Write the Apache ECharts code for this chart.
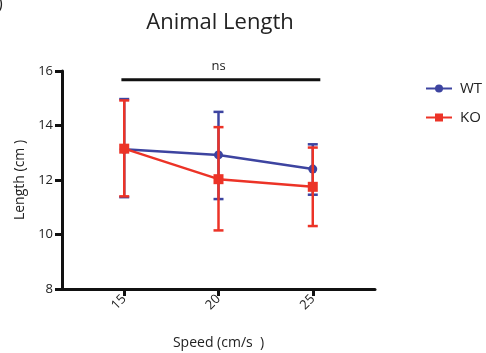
<!DOCTYPE html>
<html>
<head>
<meta charset="utf-8">
<script src="https://cdn.jsdelivr.net/npm/echarts@6/dist/echarts.min.js"></script>
<style>
  html, body { margin: 0; padding: 0; background: #fff; }
  #chart { width: 486px; height: 353px; }
</style>
</head>
<body>
<div id="chart"></div>
<script>
// data
const speeds = [15, 20, 25]
const wtMean = [13.13, 12.92, 12.4]
const wtLow = [11.37, 11.3, 11.46]
const wtHigh = [14.97, 14.5, 13.31]
const koMean = [13.15, 12.03, 11.75]
const koLow = [11.4, 10.15, 10.31]
const koHigh = [14.92, 13.94, 13.19]
const yTicks = [8, 10, 12, 14, 16]
// significance bar: [x start, x end, y]
const sigBar = [14.85, 25.4, 15.68]

const blue = '#3d44a0'
const red = '#ec3327'
const font = 'Open Sans'

const myChart = echarts.init(document.getElementById('chart'))

function errorSeries(name, color, low, high, z) {
  return {
    name: name + ' err',
    type: 'custom',
    z: z,
    data: speeds.map((s, i) => [s, low[i], high[i]]),
    encode: { x: 0, y: [1, 2] },
    renderItem: function (params, api) {
      const x = api.value(0)
      const lo = api.coord([x, api.value(1)])
      const hi = api.coord([x, api.value(2)])
      const w = 5
      const style = { stroke: color, lineWidth: 2.5 }
      return {
        type: 'group',
        children: [
          { type: 'line', shape: { x1: lo[0], y1: lo[1], x2: hi[0], y2: hi[1] }, style: style },
          { type: 'line', shape: { x1: lo[0] - w, y1: lo[1], x2: lo[0] + w, y2: lo[1] }, style: style },
          { type: 'line', shape: { x1: hi[0] - w, y1: hi[1], x2: hi[0] + w, y2: hi[1] }, style: style }
        ]
      }
    }
  }
}

const option = {
  animation: false,
  backgroundColor: '#fff',
  textStyle: { fontFamily: font },
  title: {
    text: 'Animal Length',
    left: 215,
    textAlign: 'center',
    top: 7,
    textStyle: { fontFamily: font, fontSize: 22, fontWeight: 'normal', color: '#222' }
  },
  graphic: [
    { type: 'text', left: -2, top: -4, style: { text: ')', fontSize: 16, fill: '#222', fontFamily: font } }
  ],
  legend: {
    data: ['WT', 'KO'],
    orient: 'vertical',
    left: 420,
    top: 76,
    itemWidth: 26,
    itemHeight: 10,
    itemGap: 14,
    textStyle: { fontFamily: font, fontSize: 15, color: '#222', padding: [0, 0, 0, 3] }
  },
  grid: { left: 62, right: 111, top: 71, bottom: 64, outerBoundsMode: 'none' },
  xAxis: {
    type: 'value',
    min: 11.7,
    max: 28.3,
    name: 'Speed (cm/s  )',
    nameLocation: 'middle',
    nameGap: 47,
    nameTextStyle: { fontFamily: font, fontSize: 14, color: '#222' },
    splitLine: { show: false },
    axisLine: { lineStyle: { color: '#111', width: 3 } },
    axisTick: { customValues: speeds, length: 7, lineStyle: { color: '#111', width: 3 } },
    axisLabel: { customValues: speeds, rotate: 45, fontSize: 13, color: '#222', margin: 8, fontFamily: font }
  },
  yAxis: {
    type: 'value',
    min: 8,
    max: 16,
    interval: 2,
    name: 'Length (cm )',
    nameLocation: 'middle',
    nameGap: 33,
    nameTextStyle: { fontFamily: font, fontSize: 14, color: '#222' },
    splitLine: { show: false },
    axisLine: { show: true, lineStyle: { color: '#111', width: 3 } },
    axisTick: { show: true, customValues: yTicks, length: 7, lineStyle: { color: '#111', width: 3 } },
    axisLabel: { customValues: yTicks, fontSize: 13, color: '#222', margin: 9, fontFamily: font }
  },
  series: [
    errorSeries('WT', blue, wtLow, wtHigh, 2),
    {
      name: 'WT',
      type: 'line',
      z: 3,
      data: speeds.map((s, i) => [s, wtMean[i]]),
      symbol: 'circle',
      symbolSize: 9,
      color: blue,
      lineStyle: { color: blue, width: 2.5 },
      itemStyle: { color: blue }
    },
    errorSeries('KO', red, koLow, koHigh, 4),
    {
      name: 'KO',
      type: 'line',
      z: 5,
      data: speeds.map((s, i) => [s, koMean[i]]),
      symbol: 'rect',
      symbolSize: 10,
      color: red,
      lineStyle: { color: red, width: 2.5 },
      itemStyle: { color: red }
    },
    {
      name: 'sig',
      type: 'line',
      z: 6,
      symbol: 'circle',
      symbolSize: 0,
      showSymbol: true,
      silent: true,
      lineStyle: { color: '#111', width: 3 },
      itemStyle: { color: '#111' },
      data: [
        [sigBar[0], sigBar[2]],
        {
          value: [20, sigBar[2]],
          label: { show: true, formatter: 'ns', position: 'top', distance: 7, fontSize: 13, color: '#222', fontFamily: font }
        },
        [sigBar[1], sigBar[2]]
      ]
    }
  ]
}

myChart.setOption(option)
</script>
</body>
</html>
